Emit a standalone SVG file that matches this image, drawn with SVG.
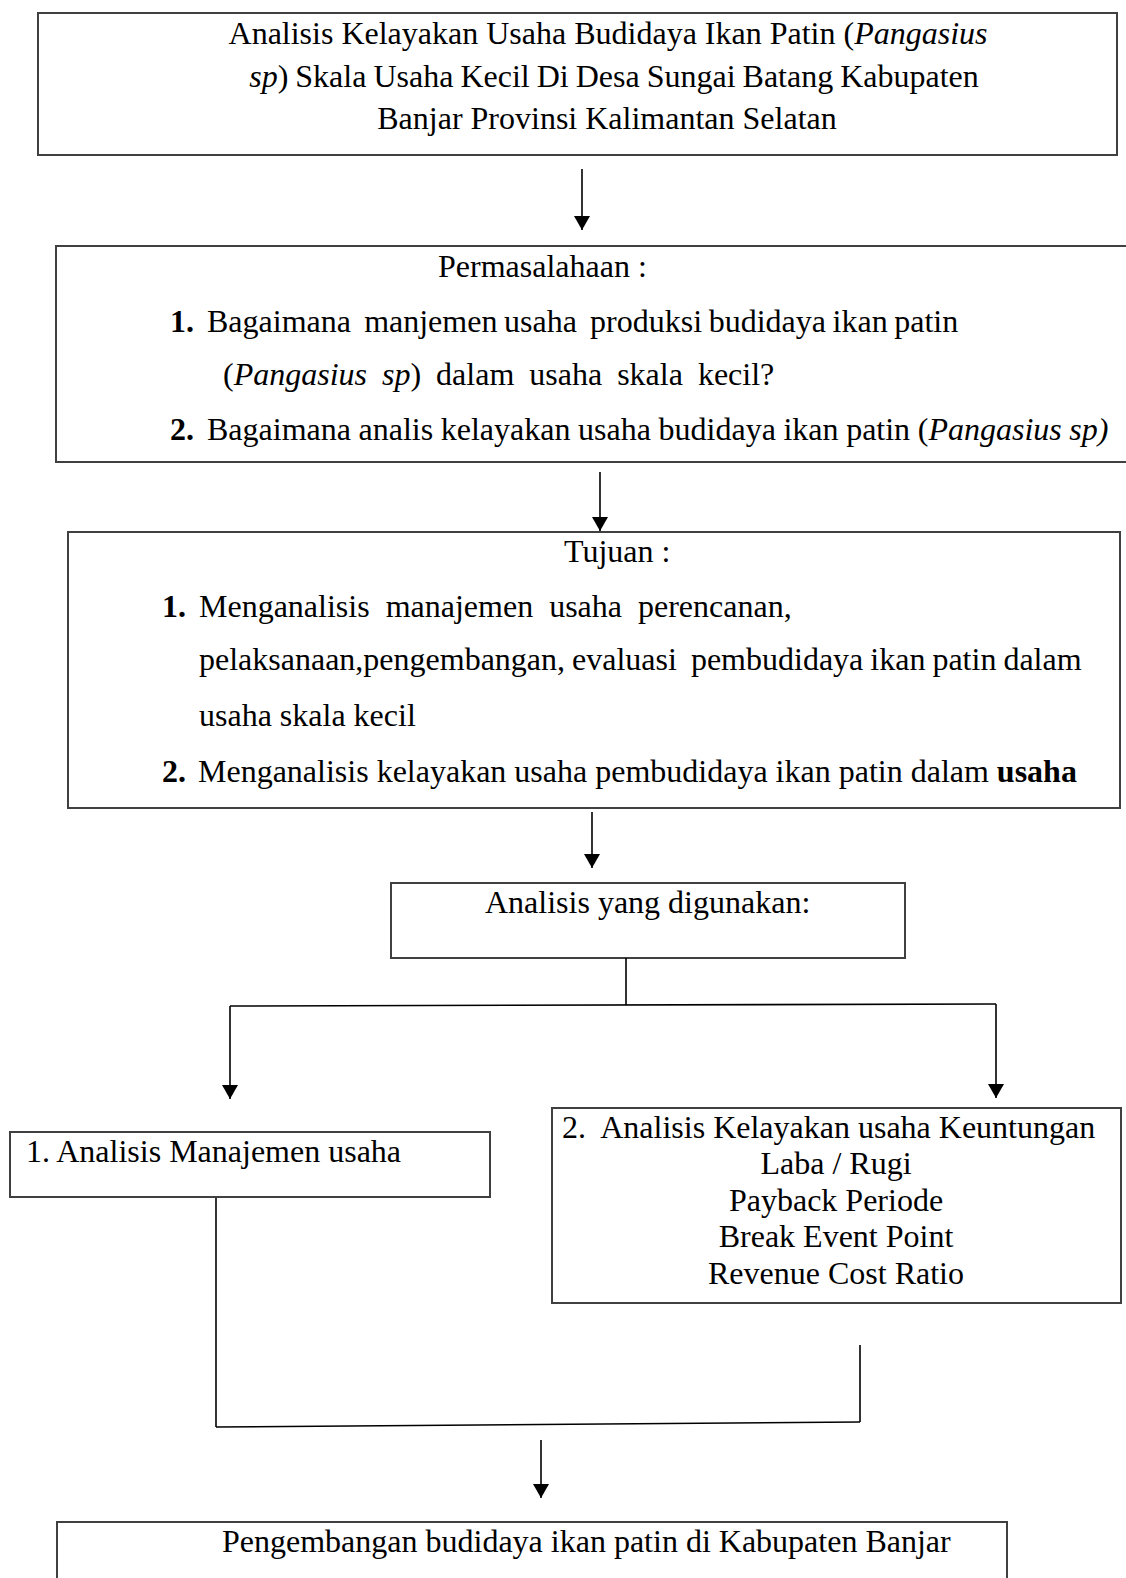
<svg xmlns="http://www.w3.org/2000/svg" width="1126" height="1578" viewBox="0 0 1126 1578">
<style>
.box{fill:#fff;stroke:#404040;stroke-width:2}
.t{font-family:"Liberation Serif","Times New Roman",serif;font-size:32px;fill:#000;white-space:pre}
.c{text-anchor:middle}
.i{font-style:italic}
.b{font-weight:bold}
.ln{fill:none;stroke:#000;stroke-width:1.6}
</style>
<defs>
<marker id="ah" markerUnits="userSpaceOnUse" markerWidth="15" markerHeight="16" refX="14" refY="8" orient="auto" viewBox="0 0 15 16">
<path d="M0,0 L14,8 L0,16 z" fill="#000"/>
</marker>
</defs>
<rect width="1126" height="1578" fill="#fff"/>

<g id="judul">
<rect class="box" x="38" y="13" width="1079" height="142"/>
<text class="t c" x="608" y="44" xml:space="preserve">Analisis Kelayakan Usaha Budidaya Ikan Patin (<tspan class="i">Pangasius</tspan></text>
<text class="t c" x="614" y="87" xml:space="preserve" style="word-spacing:-1px"><tspan class="i">sp</tspan>) Skala Usaha Kecil Di Desa Sungai Batang Kabupaten</text>
<text class="t c" x="607" y="129" xml:space="preserve">Banjar Provinsi Kalimantan Selatan</text>
</g>

<g id="permasalahan">
<rect class="box" x="56" y="246" width="1080" height="216"/>
<text class="t" x="438" y="277" xml:space="preserve">Permasalahaan :</text>
<text class="t" x="170" y="332" xml:space="preserve"><tspan class="b">1.</tspan></text>
<text class="t" x="207" y="332" xml:space="preserve" style="word-spacing:-1.4px">Bagaimana  manjemen usaha  produksi budidaya ikan patin</text>
<text class="t" x="223" y="385" xml:space="preserve" style="word-spacing:7px">(<tspan class="i">Pangasius sp</tspan>) dalam usaha skala kecil?</text>
<text class="t" x="170" y="440" xml:space="preserve"><tspan class="b">2.</tspan></text>
<text class="t" x="207" y="440" xml:space="preserve" style="word-spacing:-0.4px">Bagaimana analis kelayakan usaha budidaya ikan patin (<tspan class="i">Pangasius sp)</tspan></text>
</g>

<g id="tujuan">
<rect class="box" x="68" y="532" width="1052" height="276"/>
<text class="t" x="564" y="562" xml:space="preserve">Tujuan :</text>
<text class="t" x="162" y="617" xml:space="preserve"><tspan class="b">1.</tspan></text>
<text class="t" x="199" y="617" xml:space="preserve">Menganalisis  manajemen  usaha  perencanan,</text>
<text class="t" x="199" y="670" xml:space="preserve" style="word-spacing:-1px">pelaksanaan,pengembangan, evaluasi  pembudidaya ikan patin dalam</text>
<text class="t" x="199" y="726" xml:space="preserve">usaha skala kecil</text>
<text class="t" x="162" y="782" xml:space="preserve"><tspan class="b">2.</tspan></text>
<text class="t" x="198" y="782" xml:space="preserve">Menganalisis kelayakan usaha pembudidaya ikan patin dalam <tspan class="b">usaha</tspan></text>
</g>

<g id="analisis">
<rect class="box" x="391" y="883" width="514" height="75"/>
<text class="t" x="485" y="913" xml:space="preserve">Analisis yang digunakan:</text>
</g>

<g id="manajemen">
<rect class="box" x="10" y="1132" width="480" height="65"/>
<text class="t" x="26" y="1162" xml:space="preserve">1. Analisis Manajemen usaha</text>
</g>

<g id="kelayakan">
<rect class="box" x="552" y="1108" width="569" height="195"/>
<text class="t" x="562" y="1138" xml:space="preserve">2.  Analisis Kelayakan usaha Keuntungan</text>
<text class="t c" x="836" y="1174" xml:space="preserve">Laba / Rugi</text>
<text class="t c" x="836" y="1211" xml:space="preserve">Payback Periode</text>
<text class="t c" x="836" y="1247" xml:space="preserve">Break Event Point</text>
<text class="t c" x="836" y="1284" xml:space="preserve">Revenue Cost Ratio</text>
</g>

<g id="pengembangan">
<rect class="box" x="57" y="1522" width="950" height="80"/>
<text class="t" x="222" y="1552" xml:space="preserve">Pengembangan budidaya ikan patin di Kabupaten Banjar</text>
</g>

<g id="connectors">
<line class="ln" x1="582" y1="169" x2="582" y2="230" marker-end="url(#ah)"/>
<line class="ln" x1="600" y1="472" x2="600" y2="531" marker-end="url(#ah)"/>
<line class="ln" x1="592" y1="812" x2="592" y2="868" marker-end="url(#ah)"/>
<line class="ln" x1="626" y1="958" x2="626" y2="1005"/>
<line class="ln" x1="230" y1="1006" x2="996" y2="1004"/>
<line class="ln" x1="230" y1="1006" x2="230" y2="1099" marker-end="url(#ah)"/>
<line class="ln" x1="996" y1="1004" x2="996" y2="1098" marker-end="url(#ah)"/>
<line class="ln" x1="216" y1="1198" x2="216" y2="1427"/>
<line class="ln" x1="860" y1="1345" x2="860" y2="1422"/>
<line class="ln" x1="216" y1="1427" x2="860" y2="1422"/>
<line class="ln" x1="541" y1="1440" x2="541" y2="1498" marker-end="url(#ah)"/>
</g>
</svg>
